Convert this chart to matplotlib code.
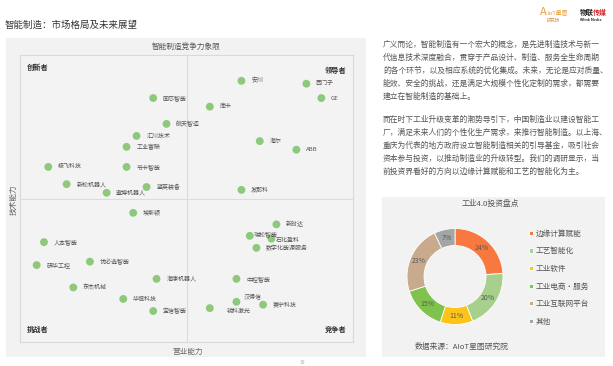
# encoding: utf-8

import matplotlib.pyplot as plt
from matplotlib.patches import Rectangle

plt.rcParams['font.family'] = ['Noto Sans CJK SC', 'DejaVu Sans']

W, H = 613, 366

# 象限图数据：营业能力 (x) / 技术能力 (y)，0-10
companies = ['国芯智能', '航天智造', '汇川技术', '工业富联', '极飞科技', '节卡智能',
             '新松机器人', '蓝英装备', '遨博机器人',
             '安川', '西门子', 'GE', '库卡', '海尔', 'ABB', '发那科',
             '埃斯顿', '人本智能', '研华工控', '优必选智能', '海康机器人', '东杰机械',
             '华恒科技', '宝信智能',
             '新时达', '瑞松智能', '石化盈科', '数字化能源服务', '中控智能', '汉得信',
             '锐科激光', '赛宁科技']
biz = [4.0, 4.4, 3.5, 3.2, 0.85, 3.2, 1.4, 3.8, 2.6,
       6.65, 8.6, 9.05, 5.7, 7.2, 8.3, 6.65,
       3.4, 0.72, 0.5, 2.1, 4.1, 1.6, 3.1, 4.0,
       7.7, 6.9, 7.55, 7.1, 6.5, 6.5, 5.7, 7.3]
tech = [8.5, 7.6, 7.18, 6.8, 6.1, 6.1, 5.5, 5.4, 5.2,
        9.1, 9.0, 8.5, 8.2, 7.0, 6.7, 5.3,
        4.5, 3.48, 2.68, 2.8, 2.2, 1.9, 1.5, 1.08,
        4.1, 3.7, 3.6, 3.28, 2.2, 1.4, 1.18, 1.3]

# 环形图数据
inv_labels = ['边缘计算赋能', '工艺智能化', '工业软件', '工业电商·服务', '工业互联网平台', '其他']
inv_share = [24, 20, 11, 15, 23, 7]
inv_colors = ['#f7793f', '#a8d08d', '#fcc419', '#80c24e', '#c9aa8c', '#a5a5a5']

para1 = ['广义而论，智能制造有一个宏大的概念，是先进制造技术与新一',
         '代信息技术深度融合，贯穿于产品设计、制造、服务全生命周期',
         '的各个环节，以及相应系统的优化集成。未来，无论是应对质量、',
         '能效、安全的挑战，还是满足大规模个性化定制的需求，都需要',
         '建立在智能制造的基础上。']
para2 = ['而在时下工业升级变革的潮势导引下，中国制造业以建设智能工',
         '厂，满足未来人们的个性化生产需求，来推行智能制造。以上海、',
         '重庆为代表的地方政府设立智能制造相关的引导基金，吸引社会',
         '资本参与投资，以推动制造业的升级转型。我们的调研显示，当',
         '前投资界看好的方向以边缘计算赋能和工艺的智能化为主。']


def fx(x):
    return x / W


def fy(y):
    return 1 - y / H


fig = plt.figure(figsize=(W / 100, H / 100), dpi=100)
fig.patch.set_facecolor('white')

# 灰色底板
fig.patches.append(Rectangle((fx(6), fy(357)), fx(360), 319 / H, transform=fig.transFigure,
                             facecolor='#f2f2f2', edgecolor='none', zorder=-1))
fig.patches.append(Rectangle((fx(382), fy(357)), fx(223), 160 / H, transform=fig.transFigure,
                             facecolor='#f2f2f2', edgecolor='none', zorder=-1))

# 页眉
fig.text(fx(5), fy(25), '智能制造：市场格局及未来展望', fontsize=6.8, color='#333333', va='center')
fig.text(fx(540), fy(12), 'A', fontsize=8, color='#e9a13b', style='italic', va='center')
fig.text(fx(547), fy(12), 'IoT星图', fontsize=4.2, color='#e9a13b', va='center')
fig.text(fx(553), fy(20), '研究院', fontsize=3.2, color='#d49a55', va='center', ha='center')
fig.text(fx(580), fy(12), '物联', fontsize=5, color='#222222', va='center', weight='bold')
fig.text(fx(593), fy(12), '传媒', fontsize=5, color='#d6262b', va='center', weight='bold')
fig.text(fx(591), fy(20), 'Wlink Media', fontsize=2.6, color='#333333', va='center', ha='center',
         weight='bold')

# 象限图
ax = fig.add_axes([fx(20), fy(342), 333 / W, 287 / H])
ax.set_facecolor('#f3f3f3')
ax.set_xlim(0, 10)
ax.set_ylim(0, 10)
ax.axhline(5, color='#dcdcdc', lw=0.8)
ax.axvline(5, color='#dcdcdc', lw=0.8)
ax.scatter(biz, tech, s=32, color='#8ec97b', edgecolors='none', zorder=3)

special = {'瑞松智能': (3, 1), '石化盈科': (3, -1), '数字化能源服务': (7, 0),
           '汉得信': (5, 4), '锐科激光': (12, -2.5)}
for name, x, y in zip(companies, biz, tech):
    off = special.get(name, (7, 0))
    ax.annotate(name, (x, y), xytext=off, textcoords='offset points',
                fontsize=4.3, color='#555555', va='center', ha='left')

ax.set_xticks([])
ax.set_yticks([])
for s in ax.spines.values():
    s.set_color('#d9d9d9')
    s.set_linewidth(0.8)

ax.text(0.02, 0.97, '创新者', transform=ax.transAxes, fontsize=5.2, color='#333333',
        weight='bold', va='top')
ax.text(0.98, 0.96, '领导者', transform=ax.transAxes, fontsize=5.2, color='#333333',
        weight='bold', va='top', ha='right')
ax.text(0.02, 0.03, '挑战者', transform=ax.transAxes, fontsize=5.2, color='#333333',
        weight='bold', va='bottom')
ax.text(0.98, 0.03, '竞争者', transform=ax.transAxes, fontsize=5.2, color='#333333',
        weight='bold', va='bottom', ha='right')

fig.text(fx(186), fy(47), '智能制造竞争力象限', fontsize=5.5, color='#555555', ha='center', va='center')
fig.text(fx(188), fy(352), '营业能力', fontsize=5.5, color='#666666', ha='center', va='center')
fig.text(fx(14), fy(200), '技术能力', fontsize=5.5, color='#666666', ha='center', va='center',
         rotation=90)

# 右侧文字
y = 45
for line in para1:
    fig.text(fx(383), fy(y), line, fontsize=5.6, color='#555555', va='center')
    y += 13
y += 10
for line in para2:
    fig.text(fx(383), fy(y), line, fontsize=5.6, color='#555555', va='center')
    y += 13

# 环形图
ax2 = fig.add_axes([fx(405), fy(326.5), 100 / W, 100 / H])
wedges, _, autotexts = ax2.pie(inv_share, colors=inv_colors, startangle=90, counterclock=False,
                               radius=0.96, autopct=lambda p: '{:.0f}%'.format(p),
                               pctdistance=0.82,
                               wedgeprops=dict(width=0.34, edgecolor='white', linewidth=0.6),
                               textprops=dict(fontsize=5, color='#595959'))
ax2.set_xlim(-1, 1)
ax2.set_ylim(-1, 1)
ax2.set_aspect('equal')
ax2.axis('off')

fig.text(fx(490), fy(204), '工业4.0投资盘点', fontsize=5.6, color='#555555', ha='center', va='center')
fig.legend(wedges, inv_labels, loc='upper left', bbox_to_anchor=(fx(525), fy(226)),
           frameon=False, fontsize=5.5, labelcolor='#555555', handlelength=0.5,
           handleheight=0.5, handletextpad=0.4, labelspacing=1.25, borderpad=0)
fig.text(fx(415), fy(347), '数据来源：AIoT星图研究院', fontsize=5.6, color='#555555', va='center')

fig.text(fx(303), fy(362), '39', fontsize=3.5, color='#aaaaaa', ha='center', va='center')

fig.savefig('out.png', dpi=100)
